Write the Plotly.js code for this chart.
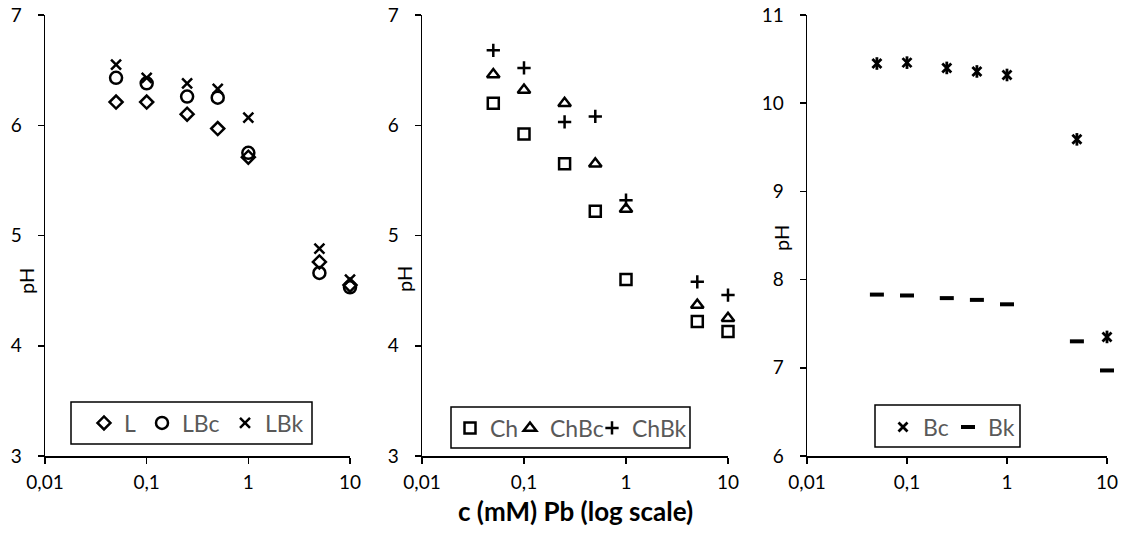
<!DOCTYPE html>
<html><head><meta charset="utf-8">
<script src="https://cdn.plot.ly/plotly-3.0.1.min.js"></script>
<style>html,body{margin:0;padding:0;background:#fff}#chart{width:1128px;height:555px}</style>
</head><body><div id="chart"></div>
<script>
// concentration of Pb (mM)
const conc = [0.05, 0.1, 0.25, 0.5, 1, 5, 10];
// panel 1
const L   = [6.21, 6.21, 6.10, 5.97, 5.71, 4.76, 4.55];
const LBc = [6.43, 6.38, 6.26, 6.25, 5.75, 4.66, 4.53];
const LBk = [6.55, 6.43, 6.38, 6.33, 6.07, 4.88, 4.60];
// panel 2
const Ch   = [6.20, 5.92, 5.65, 5.22, 4.60, 4.22, 4.13];
const ChBc = [6.46, 6.32, 6.20, 5.65, 5.24, 4.37, 4.25];
const ChBk = [6.68, 6.52, 6.03, 6.08, 5.32, 4.58, 4.46];
// panel 3
const Bc = [10.45, 10.46, 10.40, 10.36, 10.32, 9.59, 7.35];
const Bk = [7.83, 7.82, 7.79, 7.77, 7.72, 7.30, 6.97];
// ticks
const xTickVals = [0.01, 0.1, 1, 10];
const xTickText = ['0,01', '0,1', '1', '10'];
const yTicksA = [3, 4, 5, 6, 7];
const yTicksB = [6, 7, 8, 9, 10, 11];
const xTitle = 'c (mM) Pb (log scale)';
const yTitle = 'pH';

const W = 1128, H = 555;
const fx = x => x / W;
const fy = y => 1 - y / H;
const FONT = 'Lato, "Open Sans", sans-serif';

function mk(y, name, xa, ya, legend, symbol, size, lw, lwidth, show = true) {
  return {
    x: conc, y: y, name: name, type: 'scatter', mode: 'markers',
    xaxis: xa, yaxis: ya, legend: legend, showlegend: show, cliponaxis: false,
    legendwidth: lwidth,
    marker: {symbol: symbol, size: size, color: 'black', line: {color: 'black', width: lw}}
  };
}

const traces = [
  mk(L,   'L',   'x',  'y',  'legend',  'diamond-open', 10, 2.5, 13),
  mk(LBc, 'LBc', 'x',  'y',  'legend',  'circle-open', 12, 2.5, 38),
  mk(LBk, 'LBk', 'x',  'y',  'legend',  'x-thin-open', 10, 2.5, 50),
  mk(Ch,   'Ch',   'x2', 'y2', 'legend2', 'square-open', 11, 2.5, 15),
  mk(ChBc, 'ChBc', 'x2', 'y2', 'legend2', 'triangle-up-open', 11, 2.5, 37),
  mk(ChBk, 'ChBk', 'x2', 'y2', 'legend2', 'cross-thin-open', 9.5, 2.5, 60),
  mk(Bc, 'Bc', 'x3', 'y3', 'legend3', 'x-thin-open', 9, 2.8, 20),
  mk(Bc, 'Bc', 'x3', 'y3', 'legend3', 'line-ns-open', 9, 2.8, 20, false),
  mk(Bk, 'Bk', 'x3', 'y3', 'legend3', 'line-ew-open', 10, 4, 35)
];

function xax(d0, d1, anchor) {
  return {
    domain: [fx(d0), fx(d1)], anchor: anchor, type: 'log', range: [-2, 1],
    tickmode: 'array', tickvals: xTickVals, ticktext: xTickText,
    ticks: 'outside', ticklen: 6, tickwidth: 1.5, tickcolor: 'black',
    showline: true, linewidth: 1.5, linecolor: 'black',
    showgrid: false, zeroline: false, ticklabelstandoff: 3,
    tickfont: {family: FONT, size: 19, color: 'black'}, fixedrange: true
  };
}
function yax(range, ticks, anchor) {
  return {
    domain: [fy(456), fy(15)], anchor: anchor, range: range,
    tickmode: 'array', tickvals: ticks,
    ticks: 'outside', ticklen: 6, tickwidth: 1.5, tickcolor: 'black',
    showline: true, linewidth: 1.5, linecolor: 'black',
    showgrid: false, zeroline: false, ticklabelstandoff: 12,
    tickfont: {family: FONT, size: 19, color: 'black'}, fixedrange: true
  };
}
function leg(xpx, ypx) {
  return {
    x: fx(xpx), y: fy(ypx), xanchor: 'left', yanchor: 'middle', orientation: 'h',
    bgcolor: 'rgba(0,0,0,0)', borderwidth: 0,
    font: {family: FONT, size: 23, color: '#595959'}
  };
}
function box(x0, x1, y0, y1) {
  return {type: 'rect', xref: 'paper', yref: 'paper',
    x0: fx(x0), x1: fx(x1), y0: fy(y1), y1: fy(y0),
    line: {color: 'black', width: 1.5}, fillcolor: 'white', layer: 'below'};
}
function ann(text, xpx, ypx, size, bold, angle) {
  return {text: bold ? '<b>' + text + '</b>' : text, xref: 'paper', yref: 'paper',
    x: fx(xpx), y: fy(ypx), xanchor: 'center', yanchor: 'middle', showarrow: false,
    textangle: angle || 0, font: {family: FONT, size: size, color: 'black'}};
}

const layout = {
  width: W, height: H, margin: {l: 0, r: 0, t: 0, b: 0},
  paper_bgcolor: 'white', plot_bgcolor: 'rgba(0,0,0,0)',
  font: {family: FONT},
  xaxis: xax(45, 350, 'y'),   yaxis: yax([3, 7], yTicksA, 'x'),
  xaxis2: xax(422, 728, 'y2'), yaxis2: yax([3, 7], yTicksA, 'x2'),
  xaxis3: xax(807, 1107, 'y3'), yaxis3: yax([6, 11], yTicksB, 'x3'),
  legend: leg(84, 423), legend2: leg(450, 428), legend3: leg(883, 427),
  shapes: [box(71, 312, 402, 444), box(451, 690, 407, 448), box(875, 1020, 405, 447)],
  annotations: [
    ann(yTitle, 26, 281, 20, false, -90),
    ann(yTitle, 404, 279, 20, false, -90),
    ann(yTitle, 781, 238, 20, false, -90),
    ann(xTitle, 575, 511, 26, true, 0)
  ]
};

Plotly.newPlot('chart', traces, layout, {displayModeBar: false, staticPlot: true});
</script></body></html>
